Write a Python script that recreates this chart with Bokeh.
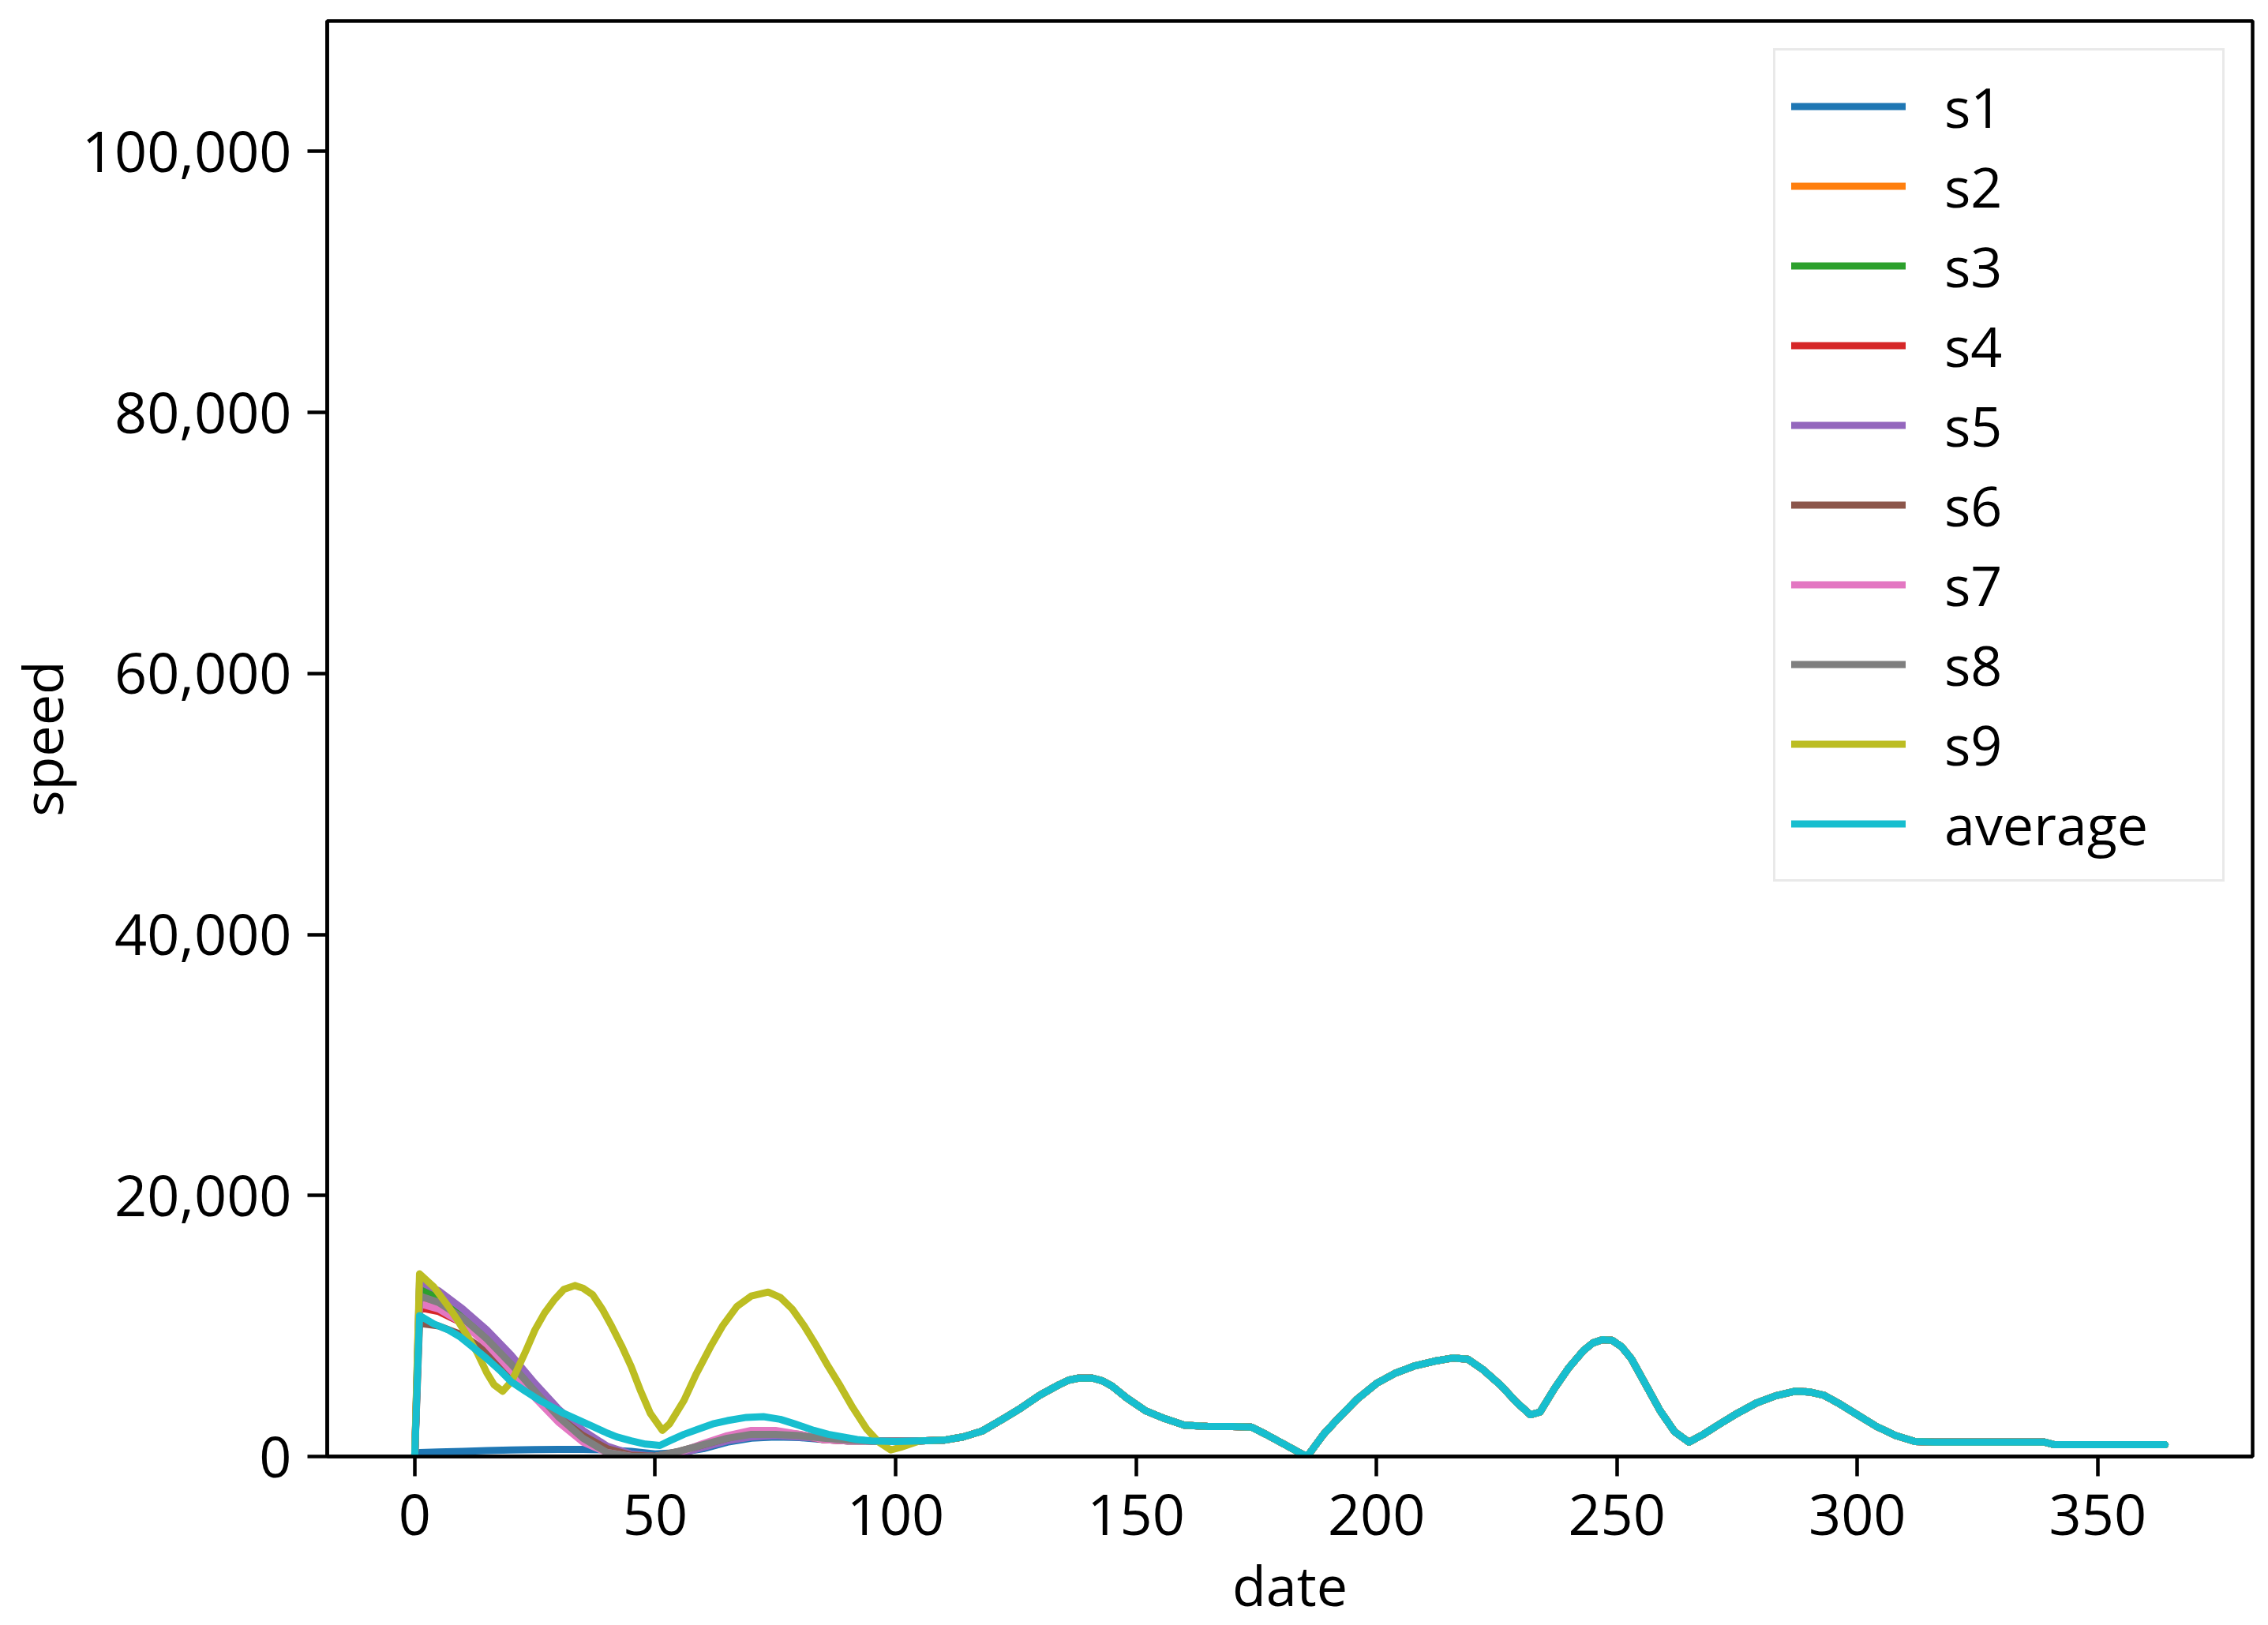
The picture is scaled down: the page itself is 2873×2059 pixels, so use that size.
from bokeh.plotting import figure
from bokeh.models import Range1d, FixedTicker, NumeralTickFormatter
from bokeh.embed import file_html
from bokeh.resources import INLINE

# ---------------- data ----------------
series_names = ["s1", "s2", "s3", "s4", "s5", "s6", "s7", "s8", "s9", "average"]
colors = ["#1f77b4", "#ff7f0e", "#2ca02c", "#d62728", "#9467bd",
          "#8c564b", "#e377c2", "#7f7f7f", "#bcbd22", "#17becf"]

# shared early days for s1..s8
early_days = [0, 1, 5, 10, 15, 20, 25, 30, 35, 40, 45, 50, 55, 60, 65, 70, 75, 80, 85, 90, 95, 100]
s1_early = [0, 300, 350, 400, 450, 500, 530, 550, 540, 500, 400, 200, 300, 600, 1100, 1400, 1500, 1450, 1300, 1200, 1200, 1200]
s2_early = [0, 12000, 11600, 10500, 8900, 7000, 5000, 3000, 1500, 500, 100, 0, 300, 800, 1300, 1600, 1700, 1550, 1350, 1250, 1200, 1200]
s3_early = [0, 12900, 12200, 10900, 9300, 7400, 5300, 3300, 1700, 600, 100, 0, 300, 900, 1400, 1700, 1750, 1600, 1400, 1250, 1200, 1200]
s4_early = [0, 11400, 11100, 10200, 8700, 6900, 4900, 3000, 1500, 500, 100, 0, 300, 900, 1500, 1900, 1900, 1600, 1300, 1200, 1200, 1200]
s5_early = [0, 13400, 12700, 11300, 9700, 7800, 5600, 3600, 2000, 800, 200, 0, 200, 700, 1200, 1500, 1600, 1500, 1350, 1250, 1200, 1200]
s6_early = [0, 10200, 10000, 9300, 8000, 6400, 4700, 3000, 1600, 600, 100, 0, 400, 900, 1400, 1800, 1900, 1700, 1300, 1200, 1200, 1200]
s7_early = [0, 11700, 11300, 10200, 8600, 6600, 4500, 2600, 1100, 300, 0, 0, 300, 1000, 1600, 2000, 2000, 1700, 1300, 1200, 1200, 1200]
s8_early = [0, 12300, 11800, 10600, 9000, 7100, 5000, 3000, 1400, 300, 0, 0, 400, 900, 1400, 1700, 1700, 1600, 1400, 1250, 1200, 1200]

s9_days = [0, 1, 4, 7, 9, 11, 13, 15, 16.5, 18.3, 20, 21, 23, 25, 27, 29, 31, 33.3, 35, 37, 39, 41, 43, 45, 47,
           49, 51.5, 53, 56, 58.5, 61.5, 64, 67, 70, 73.5, 76, 78.5, 81, 83.5, 86, 88.5, 91, 94, 96.5, 99, 101]
s9_early = [0, 14000, 12980, 11500, 10400, 9200, 7950, 6400, 5500, 5000, 5700, 6400, 8000, 9700, 11000, 12000, 12800,
            13100, 12900, 12400, 11300, 9950, 8500, 6900, 5000, 3300, 2000, 2500, 4300, 6300, 8400, 10000, 11500,
            12300, 12600, 12200, 11300, 10000, 8500, 6900, 5400, 3800, 2100, 1100, 500, 700]

avg_days = [0, 1, 4, 7, 9.5, 12, 15, 18, 20, 23, 26, 29, 31, 34, 37, 40, 42, 45, 48, 51, 53, 56, 59, 62, 65,
            69, 72.5, 76, 79, 83, 86, 89, 92, 95, 100]
avg_early = [0, 10800, 10150, 9700, 9150, 8400, 7500, 6500, 5750, 5000, 4300, 3700, 3300, 2800, 2300, 1800, 1500,
             1200, 950, 850, 1200, 1700, 2100, 2500, 2750, 3000, 3050, 2850, 2500, 2000, 1700, 1500, 1300, 1200, 1150]

# common tail shared by every series
tail_days = [105, 110, 114, 118, 122, 126, 130, 134, 136, 138, 141, 143, 145, 148, 152, 156, 160, 165, 170, 174,
             177, 181, 185, 186, 189, 192, 196, 200, 204, 208, 212, 216, 219, 222, 226, 229, 232, 234, 237, 240,
             243, 245, 247, 249, 251, 253, 256, 259, 262, 265, 268, 271, 275, 279, 283, 287, 290, 293, 296, 300,
             304, 308, 312, 316, 325, 335, 339, 341, 350, 364]
tail_speed = [1200, 1250, 1500, 1950, 2800, 3700, 4700, 5500, 5850, 6000, 6000, 5800, 5400, 4500, 3500, 2900, 2400,
              2300, 2300, 2250, 1700, 900, 100, 200, 1700, 2900, 4400, 5600, 6400, 6950, 7300, 7550, 7450, 6700,
              5400, 4200, 3200, 3400, 5200, 6800, 8100, 8700, 8950, 8900, 8400, 7500, 5500, 3500, 1900, 1100, 1700,
              2400, 3300, 4100, 4650, 5000, 4950, 4700, 4100, 3200, 2300, 1600, 1150, 1100, 1100, 1100, 1100, 900,
              900, 900]

x_ticks = [0, 50, 100, 150, 200, 250, 300, 350]
y_ticks = [0, 20000, 40000, 60000, 80000, 100000]

early = {
    "s1": (early_days, s1_early), "s2": (early_days, s2_early), "s3": (early_days, s3_early),
    "s4": (early_days, s4_early), "s5": (early_days, s5_early), "s6": (early_days, s6_early),
    "s7": (early_days, s7_early), "s8": (early_days, s8_early), "s9": (s9_days, s9_early),
    "average": (avg_days, avg_early),
}

# ---------------- figure ----------------
FONT = "Open Sans"
FS = "70px"
TICK_FS = "72px"

p = figure(width=2873, height=2059, output_backend="svg", toolbar_location=None,
           x_range=Range1d(-18.2, 382.2), y_range=Range1d(0, 110000),
           min_border_left=414, min_border_right=20, min_border_top=26, min_border_bottom=214,
           background_fill_color="white", border_fill_color="white")

p.outline_line_color = "black"
p.outline_line_width = 4.5
p.outline_line_alpha = 1.0
p.grid.visible = False

for name, col in zip(series_names, colors):
    d, v = early[name]
    xs = list(d) + tail_days
    ys = list(v) + tail_speed
    p.line(xs, ys, line_color=col, line_width=9, line_join="round", line_cap="round", legend_label=name)

for ax in (p.xaxis[0], p.yaxis[0]):
    ax.axis_line_color = "black"
    ax.axis_line_width = 4.5
    ax.major_tick_line_color = "black"
    ax.major_tick_line_width = 4.5
    ax.major_tick_in = 0
    ax.major_tick_out = 25
    ax.minor_tick_line_color = None
    ax.major_label_text_font = FONT
    ax.major_label_text_font_size = TICK_FS
    ax.major_label_text_color = "black"
    ax.axis_label_text_font = FONT
    ax.axis_label_text_font_size = FS
    ax.axis_label_text_font_style = "normal"
    ax.axis_label_text_color = "black"

p.xaxis[0].ticker = FixedTicker(ticks=x_ticks)
p.yaxis[0].ticker = FixedTicker(ticks=y_ticks)
p.yaxis[0].formatter = NumeralTickFormatter(format="0,0")
p.xaxis[0].axis_label = "date"
p.yaxis[0].axis_label = "speed"
p.xaxis[0].major_label_standoff = 22
p.yaxis[0].major_label_standoff = 20
p.xaxis[0].axis_label_standoff = 12
p.yaxis[0].axis_label_standoff = 0

lg = p.legend[0]
lg.location = "top_right"
lg.margin = 35
lg.padding = 20
lg.spacing = 0
lg.glyph_width = 145
lg.glyph_height = 101
lg.label_height = 101
lg.label_width = 332
lg.label_standoff = 49
lg.label_text_font = FONT
lg.label_text_font_size = FS
lg.label_text_color = "black"
lg.border_line_color = "#d4d4d4"
lg.border_line_width = 3
lg.background_fill_color = "white"
lg.background_fill_alpha = 0.8

open("out.html", "w").write(file_html(p, INLINE))
